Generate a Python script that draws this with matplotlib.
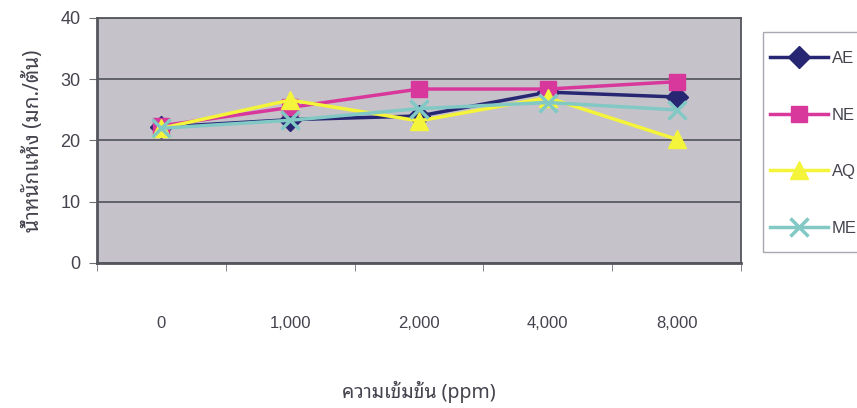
import numpy as np
import matplotlib
matplotlib.use("Agg")
import matplotlib.pyplot as plt
from matplotlib.patches import Rectangle

# dry weight per plant at each extract concentration
concentrations = ['0', '1,000', '2,000', '4,000', '8,000']
ae = [22.2, 23.4, 24.0, 27.9, 27.1]
ne = [22.4, 25.4, 28.4, 28.4, 29.6]
aq = [22.0, 26.6, 23.2, 27.0, 20.2]
me = [22.0, 23.3, 25.2, 26.2, 25.0]

series = [
    ('AE', ae, '#262673', 'D', 11),
    ('NE', ne, '#d8389b', 's', 12),
    ('AQ', aq, '#f4f43a', '^', 13),
    ('ME', me, '#82c8c4', 'x', 13),
]

text_col = '#44444e'
thai = ['Noto Sans Thai Looped', 'Liberation Sans']
plt.rcParams['font.family'] = ['Liberation Sans']

fig = plt.figure(figsize=(8.57, 4.08), dpi=100)
ax = fig.add_axes([0.1132, 0.3554, 0.7514, 0.6005])
ax.set_facecolor('#c6c2ca')

x = np.arange(len(concentrations))
for name, vals, col, mk, ms in series:
    if mk == 'x':
        ax.plot(x, vals, color=col, lw=2.5, marker=mk, ms=ms, mew=2.5, label=name)
    else:
        ax.plot(x, vals, color=col, lw=2.5, marker=mk, ms=ms, mec=col, label=name)

ax.set_xlim(-0.5, len(concentrations) - 0.5)
ax.set_ylim(0, 40)
ax.set_yticks([0, 10, 20, 30, 40])
ax.yaxis.grid(True, color='#505058', lw=1.2)
ax.set_axisbelow(True)

ax.set_xticks(x)
ax.set_xticklabels(concentrations)
ax.set_xticks(np.arange(-0.5, len(concentrations)), minor=True)
ax.tick_params(axis='x', which='major', length=0, pad=38, labelsize=12, labelcolor=text_col)
ax.tick_params(axis='x', which='minor', length=6, color='#707078', direction='out')
ax.tick_params(axis='y', length=6, color='#707078', pad=6, labelsize=13, labelcolor=text_col)

for side in ['left', 'bottom', 'right', 'top']:
    ax.spines[side].set_color('#55555d')
    ax.spines[side].set_linewidth(1.3)
ax.spines['left'].set_linewidth(2)
ax.spines['bottom'].set_linewidth(2)

ax.set_xlabel('ความเข้มข้น (ppm)', family=thai, fontsize=14, color=text_col, labelpad=36)
ax.set_ylabel('น้ำหนักแห้ง (มก./ต้น)', family=thai, fontsize=15, fontweight='bold', color=text_col, labelpad=12)

# legend box runs past the right edge of the figure
fig.patches.append(Rectangle((763 / 857, 1 - 252 / 408), 0.2, 220 / 408, transform=fig.transFigure,
                             fill=False, ec='#a8a8b0', lw=1))
ax.legend(loc='upper left', bbox_to_anchor=(770 / 857, 1 - 51 / 408), bbox_transform=fig.transFigure,
          borderaxespad=0, borderpad=0, frameon=False, handlelength=3.45, handletextpad=0.25,
          labelspacing=2.5, fontsize=12, labelcolor=text_col)

fig.savefig('out.png', dpi=100)
